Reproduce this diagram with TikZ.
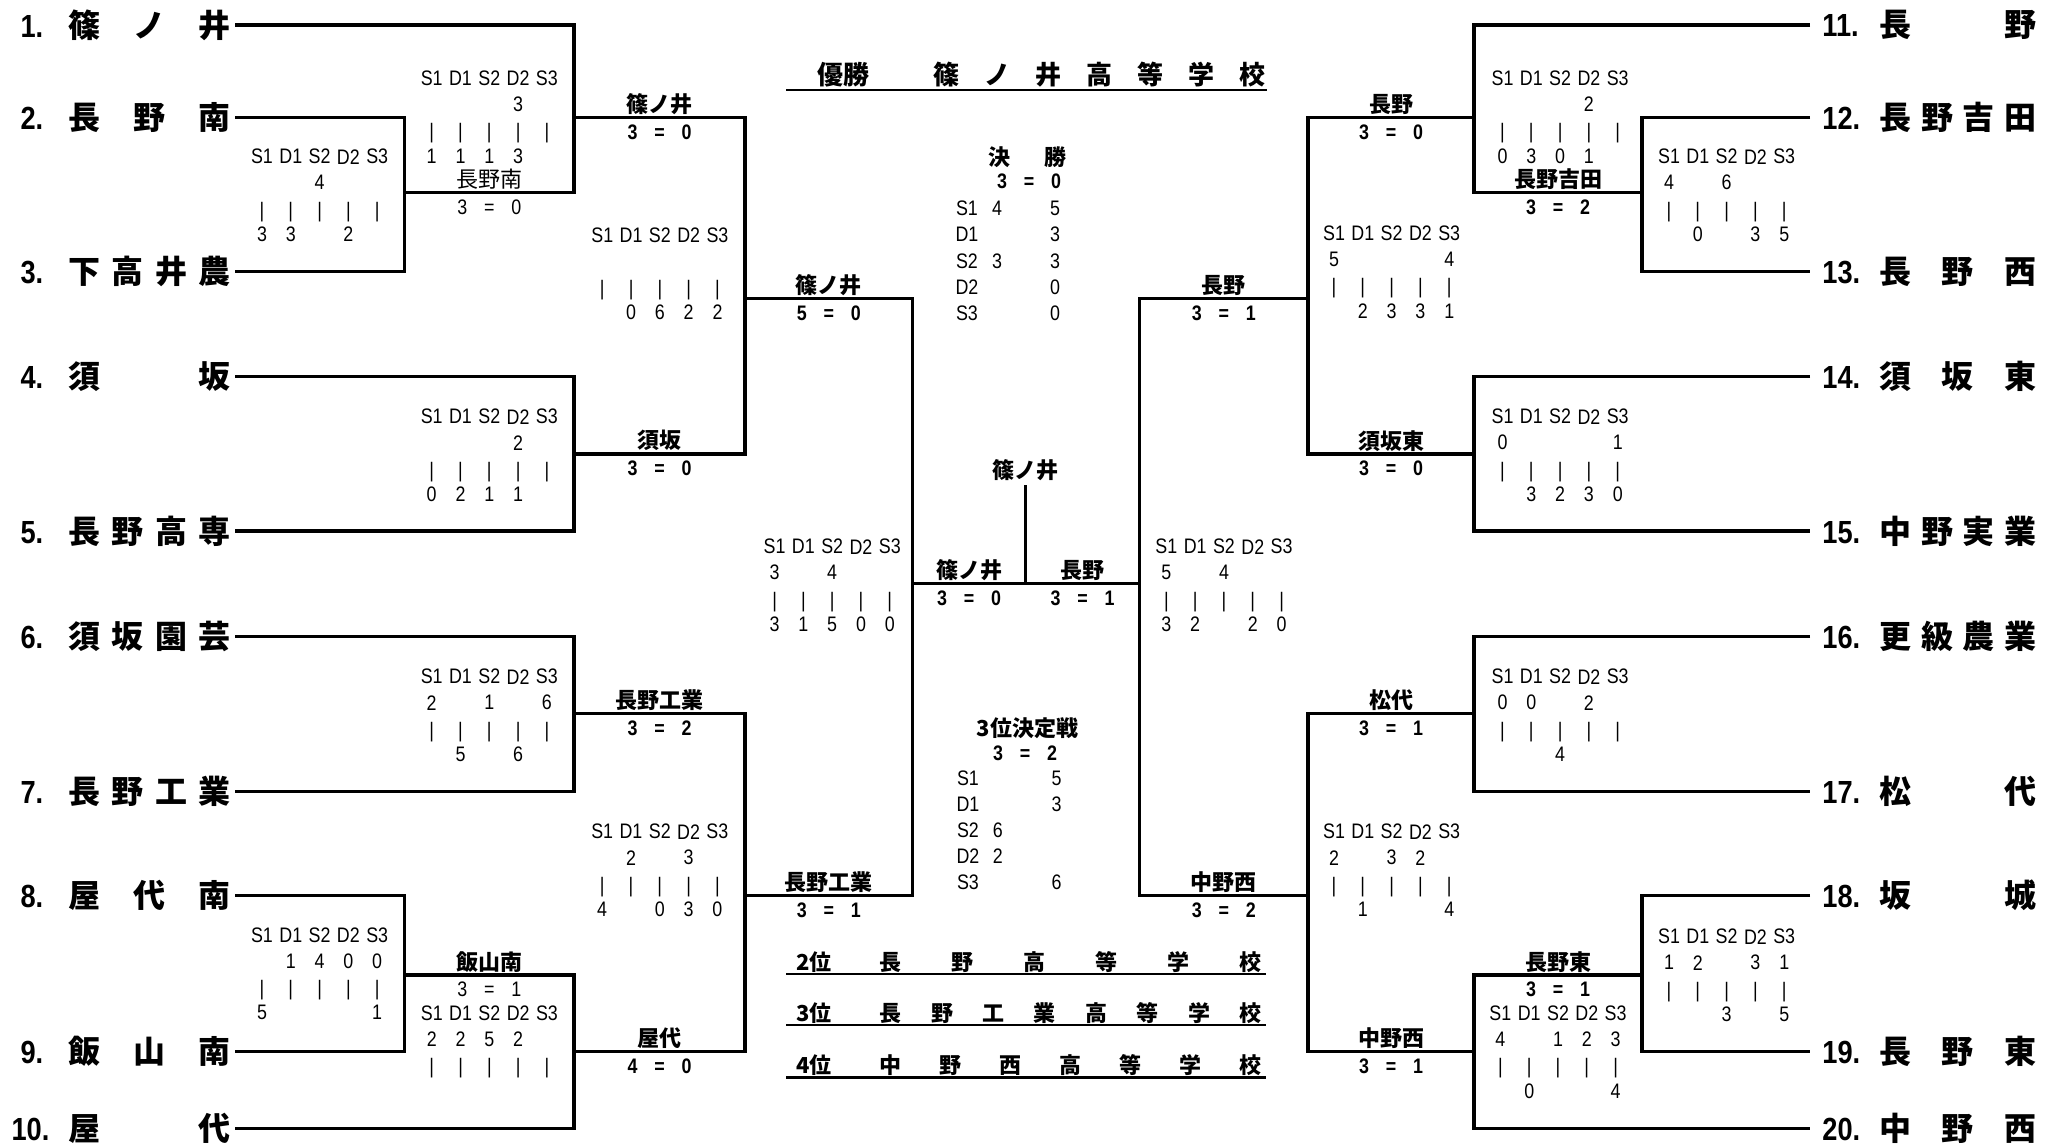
\documentclass[tikz,border=0pt]{standalone}
\usepackage{fontspec}
\setmainfont{Liberation Sans}
\newfontfamily\jp{Noto Sans CJK JP}
\newfontfamily\narrow{Liberation Sans}[FakeStretch=0.85]

\newcommand{\lteam}[2]{\makebox[24pt][l]{\narrow #1}\makebox[81pt][s]{#2}}
\newcommand{\rteam}[2]{\makebox[28.5pt][l]{\narrow #1}\makebox[78.5pt][s]{#2}}
\newcommand{\res}[2]{#1\hspace{.8em}=\hspace{.8em}#2}
% score table: name, x of S1, y of header, top row, bottom row
\newcommand{\scoretab}[5]{%
  \foreach \lab [count=\i from 0] in {S1,D1,S2,D2,S3}
    \node[sc] (#1-h\i) at (#2+28.8*\i,#3) {\lab};
  \foreach \c/\v in {#4}
    \node[sc] (#1-t\c) at (#2+28.8*\c,#3+26) {\v};
  \foreach \i in {0,...,4}
    \node[sc] (#1-v\i) at (#2+28.8*\i,#3+55) {|};
  \foreach \c/\v in {#5}
    \node[sc] (#1-b\c) at (#2+28.8*\c,#3+77.5) {\v};
}

\tikzset{
  bracket/.style={line width=1.6pt},
  uline/.style={line width=1.2pt},
  teamL/.style={anchor=east, inner xsep=2pt, inner ysep=0pt,
    font=\jp\bfseries\fontsize{16}{16}\selectfont},
  teamR/.style={anchor=west, inner xsep=6pt, inner ysep=0pt,
    font=\jp\bfseries\fontsize{16}{16}\selectfont},
  win/.style={inner sep=0pt, yshift=6.65pt, font=\jp\bfseries\fontsize{11}{11}\selectfont},
  winn/.style={win, font=\jp\fontsize{11}{11}\selectfont},
  resc/.style={inner sep=0pt, font=\narrow\bfseries\fontsize{10.5}{10.5}\selectfont},
  res/.style={resc, yshift=-7.25pt},
  resn/.style={res, font=\narrow\fontsize{10.5}{10.5}\selectfont},
  sc/.style={inner sep=0pt, font=\narrow\fontsize{10.5}{10.5}\selectfont},
  head/.style={inner sep=0pt, font=\jp\bfseries\fontsize{11}{11}\selectfont},
}

\begin{document}
\begin{tikzpicture}[x=0.5pt,y=-0.5pt]
\useasboundingbox (0,0) rectangle (2047,1147);

% teams, left
\node[teamL] (t1) at (235,25) {\lteam{1.}{篠\hfill ノ\hfill 井}};
\node[teamL] (t2) at (235,117.7) {\lteam{2.}{長\hfill 野\hfill 南}};
\node[teamL] (t3) at (235,271.7) {\lteam{3.}{下\hfill 高\hfill 井\hfill 農}};
\node[teamL] (t4) at (235,376.7) {\lteam{4.}{須\hfill 坂}};
\node[teamL] (t5) at (235,531) {\lteam{5.}{長\hfill 野\hfill 高\hfill 専}};
\node[teamL] (t6) at (235,636.7) {\lteam{6.}{須\hfill 坂\hfill 園\hfill 芸}};
\node[teamL] (t7) at (235,791.7) {\lteam{7.}{長\hfill 野\hfill 工\hfill 業}};
\node[teamL] (t8) at (235,895.5) {\lteam{8.}{屋\hfill 代\hfill 南}};
\node[teamL] (t9) at (235,1051.7) {\lteam{9.}{飯\hfill 山\hfill 南}};
\node[teamL] (t10) at (235,1128.3) {\lteam{\hspace{-4.5pt}10.}{屋\hfill 代}};

% teams, right
\node[teamR] (t11) at (1810,25) {\rteam{11.}{長\hfill 野}};
\node[teamR] (t12) at (1810,117.7) {\rteam{12.}{長\hfill 野\hfill 吉\hfill 田}};
\node[teamR] (t13) at (1810,271.7) {\rteam{13.}{長\hfill 野\hfill 西}};
\node[teamR] (t14) at (1810,376.7) {\rteam{14.}{須\hfill 坂\hfill 東}};
\node[teamR] (t15) at (1810,531) {\rteam{15.}{中\hfill 野\hfill 実\hfill 業}};
\node[teamR] (t16) at (1810,636.7) {\rteam{16.}{更\hfill 級\hfill 農\hfill 業}};
\node[teamR] (t17) at (1810,791.7) {\rteam{17.}{松\hfill 代}};
\node[teamR] (t18) at (1810,895.5) {\rteam{18.}{坂\hfill 城}};
\node[teamR] (t19) at (1810,1051.7) {\rteam{19.}{長\hfill 野\hfill 東}};
\node[teamR] (t20) at (1810,1128.3) {\rteam{20.}{中\hfill 野\hfill 西}};

% junctions
\coordinate (m23) at (404.5,192.7);
\coordinate (m1) at (574,117.7);
\coordinate (m45) at (574,454);
\coordinate (q1) at (745,298.3);
\coordinate (m67) at (574,713.3);
\coordinate (m89) at (404.5,975);
\coordinate (m10) at (574,1051.7);
\coordinate (q2) at (745,895.5);
\coordinate (sL) at (912.7,583.3);
\coordinate (m1213) at (1642,192.7);
\coordinate (m11) at (1474,117.7);
\coordinate (m1415) at (1474,454);
\coordinate (q3) at (1308,298.3);
\coordinate (m1617) at (1474,713.3);
\coordinate (m1819) at (1642,975);
\coordinate (m20) at (1474,1051.7);
\coordinate (q4) at (1308,895.5);
\coordinate (sR) at (1139.5,583.3);
\coordinate (fin) at (1025.5,583.3);

% brackets
\draw[bracket] (t2.east) -| (m23) |- (t3.east);
\draw[bracket] (t1.east) -| (m1) |- (m23);
\draw[bracket] (t4.east) -| (m45) |- (t5.east);
\draw[bracket] (m1) -| (q1) |- (m45);
\draw[bracket] (t6.east) -| (m67) |- (t7.east);
\draw[bracket] (t8.east) -| (m89) |- (t9.east);
\draw[bracket] (m89) -| (m10) |- (t10.east);
\draw[bracket] (m67) -| (q2) |- (m10);
\draw[bracket] (q1) -| (sL) |- (q2);
\draw[bracket] (t12.west) -| (m1213) |- (t13.west);
\draw[bracket] (t11.west) -| (m11) |- (m1213);
\draw[bracket] (t14.west) -| (m1415) |- (t15.west);
\draw[bracket] (m11) -| (q3) |- (m1415);
\draw[bracket] (t16.west) -| (m1617) |- (t17.west);
\draw[bracket] (t18.west) -| (m1819) |- (t19.west);
\draw[bracket] (m1819) -| (m20) |- (t20.west);
\draw[bracket] (m1617) -| (q4) |- (m20);
\draw[bracket] (q3) -| (sR) |- (q4);
\draw[bracket] (sL) -- (sR);
\node[head, inner sep=2pt] (champ) at (1025.5,470) {篠ノ井};
\draw[bracket] (champ) -- (fin);

% winners and results
\path (m23) -- node[winn] (w-m23) {長野南} node[resn] (r-m23) {\res{3}{0}} (m23 -| m1);
\path (m1) -- node[win] (w-m1) {篠ノ井} node[res] (r-m1) {\res{3}{0}} (m1 -| q1);
\path (m45) -- node[win] (w-m45) {須坂} node[res] (r-m45) {\res{3}{0}} (m45 -| q1);
\path (m67) -- node[win] (w-m67) {長野工業} node[res] (r-m67) {\res{3}{2}} (m67 -| q2);
\path (m89) -- node[win] (w-m89) {飯山南} node[resn] (r-m89) {\res{3}{1}} (m89 -| m10);
\path (m10) -- node[win] (w-m10) {屋代} node[res] (r-m10) {\res{4}{0}} (m10 -| q2);
\path (q1) -- node[win] (w-q1) {篠ノ井} node[res] (r-q1) {\res{5}{0}} (q1 -| sL);
\path (q2) -- node[win] (w-q2) {長野工業} node[res] (r-q2) {\res{3}{1}} (q2 -| sL);
\path (m1213) -- node[win] (w-m1213) {長野吉田} node[res] (r-m1213) {\res{3}{2}} (m1213 -| m11);
\path (m11) -- node[win] (w-m11) {長野} node[res] (r-m11) {\res{3}{0}} (m11 -| q3);
\path (m1415) -- node[win] (w-m1415) {須坂東} node[res] (r-m1415) {\res{3}{0}} (m1415 -| q3);
\path (m1617) -- node[win] (w-m1617) {松代} node[res] (r-m1617) {\res{3}{1}} (m1617 -| q4);
\path (m1819) -- node[win] (w-m1819) {長野東} node[res] (r-m1819) {\res{3}{1}} (m1819 -| m20);
\path (m20) -- node[win] (w-m20) {中野西} node[res] (r-m20) {\res{3}{1}} (m20 -| q4);
\path (q3) -- node[win] (w-q3) {長野} node[res] (r-q3) {\res{3}{1}} (q3 -| sR);
\path (q4) -- node[win] (w-q4) {中野西} node[res] (r-q4) {\res{3}{2}} (q4 -| sR);
\path (sL) -- node[win] (w-sL) {篠ノ井} node[res] (r-sL) {\res{3}{0}} (fin);
\path (fin) -- node[win] (w-sR) {長野} node[res] (r-sR) {\res{3}{1}} (sR);

% score tables, left
\scoretab{ka}{431.7}{78.3}{3/3}{0/1,1/1,2/1,3/3}
\scoretab{kb}{262}{156.7}{2/4}{0/3,1/3,3/2}
\scoretab{kc}{602.3}{235}{0/{}}{1/0,2/6,3/2,4/2}
\scoretab{kd}{431.7}{416.7}{3/2}{0/0,1/2,2/1,3/1}
\scoretab{ke}{431.7}{676.7}{0/2,2/1,4/6}{1/5,3/6}
\scoretab{kf}{602.2}{831.7}{1/2,3/3}{0/4,2/0,3/3,4/0}
\scoretab{kg}{262}{935}{1/1,2/4,3/0,4/0}{0/5,4/1}
\scoretab{kh}{431.8}{1013.3}{0/2,1/2,2/5,3/2}{0/{}}
\scoretab{ks}{774.6}{546.7}{0/3,2/4}{0/3,1/1,2/5,3/0,4/0}
% score tables, right
\scoretab{ki}{1502.5}{78.3}{3/2}{0/0,1/3,2/0,3/1}
\scoretab{kj}{1669}{156.7}{0/4,2/6}{1/0,3/3,4/5}
\scoretab{kk}{1334}{233.3}{0/5,4/4}{1/2,2/3,3/3,4/1}
\scoretab{kl}{1502.5}{416.7}{0/0,4/1}{1/3,2/2,3/3,4/0}
\scoretab{km}{1502.5}{676.7}{0/0,1/0,3/2}{2/4}
\scoretab{kn}{1334}{831.7}{0/2,2/3,3/2}{1/1,4/4}
\scoretab{ko}{1669}{936.7}{0/1,1/2,3/3,4/1}{2/3,4/5}
\scoretab{kp}{1500.4}{1013.3}{0/4,2/1,3/2,4/3}{1/0,4/4}
\scoretab{kt}{1166.4}{546.7}{0/5,2/4}{0/3,1/2,3/2,4/0}

% final and third place
\node[head] (fl) at (1027.4,156.7) {\makebox[38.7pt][s]{決\hfill 勝}};
\node[resc] (fl-r) at (1029,181.7) {\res{3}{0}};
\foreach \lab/\a/\b [count=\i from 0] in {S1/4/5,D1//3,S2/3/3,D2//0,S3//0} {
  \node[sc] (fl-l\i) at (967,208.3+26.25*\i) {\lab};
  \node[sc] (fl-a\i) at (997,208.3+26.25*\i) {\a};
  \node[sc] (fl-b\i) at (1055,208.3+26.25*\i) {\b};
}
\node[head] (tp) at (1027.6,728.3) {3位決定戦};
\node[resc] (tp-r) at (1025,753.3) {\res{3}{2}};
\foreach \lab/\a/\b [count=\i from 0] in {S1//5,D1//3,S2/6/,D2/2/,S3//6} {
  \node[sc] (tp-l\i) at (968,778.3+26.1*\i) {\lab};
  \node[sc] (tp-a\i) at (997.8,778.3+26.1*\i) {\a};
  \node[sc] (tp-b\i) at (1056.5,778.3+26.1*\i) {\b};
}

% champion and places
\node[anchor=west, inner sep=0pt, font=\jp\bfseries\fontsize{13}{13}\selectfont] (title) at (817,75)
  {優勝\hspace{32pt}\makebox[166pt][s]{篠\hfill ノ\hfill 井\hfill 高\hfill 等\hfill 学\hfill 校}};
\coordinate (u0a) at (786,90);
\coordinate (u0b) at (1267,90);
\draw[uline] (u0a) -- (u0b);
\node[head, anchor=west] (p2) at (796,961.7)
  {\makebox[41.75pt][l]{2位}\makebox[190.75pt][s]{長\hfill 野\hfill 高\hfill 等\hfill 学\hfill 校}};
\node[head, anchor=west] (p3) at (796,1013.3)
  {\makebox[41.75pt][l]{3位}\makebox[190.75pt][s]{長\hfill 野\hfill 工\hfill 業\hfill 高\hfill 等\hfill 学\hfill 校}};
\node[head, anchor=west] (p4) at (796,1065)
  {\makebox[41.75pt][l]{4位}\makebox[190.75pt][s]{中\hfill 野\hfill 西\hfill 高\hfill 等\hfill 学\hfill 校}};
\coordinate (u2a) at (786,974);
\coordinate (u2b) at (1266,974);
\coordinate (u3a) at (786,1025);
\coordinate (u3b) at (1266,1025);
\coordinate (u4a) at (786,1077.3);
\coordinate (u4b) at (1266,1077.3);
\draw[uline] (u2a) -- (u2b);
\draw[uline] (u3a) -- (u3b);
\draw[uline] (u4a) -- (u4b);
\end{tikzpicture}
\end{document}
